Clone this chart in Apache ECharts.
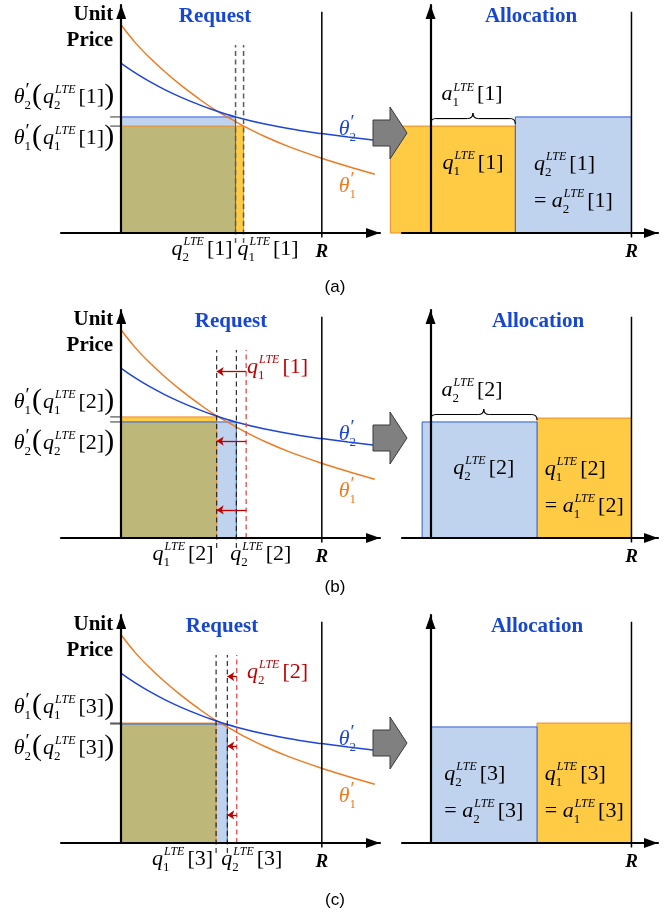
<!DOCTYPE html>
<html>
<head>
<meta charset="utf-8">
<script src="https://cdn.jsdelivr.net/npm/echarts@6/dist/echarts.min.js"></script>
<style>
  html, body { margin: 0; padding: 0; background: #fff; }
  #chart { width: 671px; height: 917px; }
</style>
</head>
<body>
<div id="chart"></div>
<script>
// capacity
const R = 10

// unit-price curves theta'_1 (orange) and theta'_2 (blue)
const theta1X = [0, 0.7, 1.36, 2.19, 3.02, 3.85, 4.68, 5.51, 6.08, 7.16, 8.32, 9.99, 11.31, 12.64]
const theta1Y = [9.12, 8.35, 7.74, 7.06, 6.45, 5.90, 5.40, 4.98, 4.70, 4.23, 3.80, 3.28, 2.92, 2.58]
const theta2X = [0, 0.7, 1.36, 2.19, 3.02, 3.85, 4.68, 5.71, 7.16, 8.82, 9.99, 11.31, 12.55]
const theta2Y = [7.44, 7.02, 6.67, 6.28, 5.94, 5.64, 5.37, 5.09, 4.78, 4.51, 4.36, 4.21, 4.08]

// one entry per round (a), (b), (c)
const steps = [1, 2, 3]
const panelNames = ['(a)', '(b)', '(c)']
const q1 = [6.1, 4.76, 4.73]      // requested amount, user 1
const p1 = [4.69, 5.31, 5.26]     // theta'_1(q1)
const q2 = [5.7, 5.74, 5.29]      // requested amount, user 2
const p2 = [5.09, 5.09, 5.22]     // theta'_2(q2)
const prevQ = [null, 6.23, 5.76]  // previous request of the user that moved (red dashed)
const movedUser = [null, 1, 2]
const arrowLevels = [7.3, 4.25, 1.23]

// allocation blocks [start, end, height]
const alloc1 = [[-2.0, 4.22, 4.69], [5.3, 10, 5.26], [5.3, 10, 5.26]]
const alloc2 = [[4.22, 10, 5.09], [-0.42, 5.3, 5.09], [0, 5.3, 5.09]]

// layout bits
const PANEL_DY = 305
const requestTitleX = [215, 231, 222]
const allocTitleX = [531, 538, 537]
const panelLabelY = [287, 587, 900]

const C = {
  orange: '#EE7B22', blue: '#1E46D3', title: '#1747CF',
  fillO: '#FFCB45', fillB: '#BFD3EE', olive: '#BDB77A',
  edgeO: '#EE8A2A', edgeB: '#2D5ED8', red: '#C00000', redDash: '#E24A4A'
}
const SERIF = '"Liberation Serif", "Times New Roman", serif'
const BOLD = 'bold 21px ' + SERIF
const RFONT = 'italic bold 19px ' + SERIF
const MATH = 22

const chart = echarts.init(document.getElementById('chart'))

function xAxisOf(gi, min, max) {
  return {
    type: 'value', gridIndex: gi, min, max, z: 5,
    axisLine: { onZero: true, symbol: ['none', 'triangle'], symbolSize: [10, 14], symbolOffset: [0, -7],
      lineStyle: { color: '#000', width: 2.2 } },
    axisTick: { show: false }, axisLabel: { show: false }, splitLine: { show: false }
  }
}
function yAxisOf(gi) {
  return {
    type: 'value', gridIndex: gi, min: 0, max: 10, z: 5,
    axisLine: { onZero: true, symbol: ['none', 'triangle'], symbolSize: [10, 14], symbolOffset: [0, -7],
      lineStyle: { color: '#000', width: 2.2 } },
    axisTick: { show: false }, axisLabel: { show: false }, splitLine: { show: false }
  }
}
function seg(gi, pts, color, width, dash, extra) {
  return Object.assign({
    type: 'line', xAxisIndex: gi, yAxisIndex: gi, data: pts, symbol: 'none', showSymbol: false,
    clip: false, silent: true, lineStyle: { color, width, type: dash || 'solid' }
  }, extra || {})
}

function renderRequest(params, api) {
  const a = [api.value(0), api.value(1)], b = [api.value(2), api.value(3)]
  const o = api.coord([0, 0])
  const pa = api.coord(a), pb = api.coord(b)
  const pm = api.coord([Math.min(a[0], b[0]), Math.min(a[1], b[1])])
  const tx = api.coord([-0.55, 0])[0]
  const rect = (p, fill) => ({ type: 'rect', shape: { x: o[0], y: p[1], width: p[0] - o[0], height: o[1] - p[1] }, style: { fill } })
  const edge = (p, stroke) => ({ type: 'polyline', shape: { points: [[o[0], p[1]], [p[0], p[1]], [p[0], o[1]]] }, style: { stroke, lineWidth: 1, fill: 'none' } })
  const tick = p => ({ type: 'line', shape: { x1: tx, y1: p[1], x2: o[0], y2: p[1] }, style: { stroke: '#333', lineWidth: 1 } })
  return { type: 'group', children: [rect(pa, C.fillO), rect(pb, C.fillB), rect(pm, C.olive), edge(pa, C.edgeO), edge(pb, C.edgeB), tick(pa), tick(pb)] }
}
function renderAlloc(params, api) {
  const s = api.coord([api.value(0), 0]), e = api.coord([api.value(1), api.value(2)])
  const u = api.value(3)
  return {
    type: 'rect', shape: { x: s[0], y: e[1], width: e[0] - s[0], height: s[1] - e[1] },
    style: { fill: u === 1 ? C.fillO : C.fillB, stroke: u === 1 ? C.edgeO : C.edgeB, lineWidth: 1 }
  }
}

const grids = [], xAxes = [], yAxes = [], series = []
steps.forEach((s, k) => {
  const top = 5 + k * PANEL_DY
  const L = 2 * k, Rg = 2 * k + 1
  grids.push({ left: 61, top, width: 319, height: 228 })
  grids.push({ left: 402, top, width: 256, height: 228 })
  xAxes.push(xAxisOf(L, -3, 12.9), xAxisOf(Rg, -1.42, 11.32))
  yAxes.push(yAxisOf(L), yAxisOf(Rg))

  // request side
  series.push({ type: 'custom', xAxisIndex: L, yAxisIndex: L, clip: false, silent: true,
    renderItem: renderRequest, data: [[q1[k], p1[k], q2[k], p2[k]]] })
  series.push(seg(L, theta1X.map((x, i) => [x, theta1Y[i]]), C.orange, 1.5, null, { smooth: 0.4, clip: true }))
  series.push(seg(L, theta2X.map((x, i) => [x, theta2Y[i]]), C.blue, 1.5, null, { smooth: 0.4, clip: true }))
  series.push(seg(L, [[R, -0.2], [R, 9.7]], '#000', 1.5))
  const dashCol = k === 0 ? '#5a5a5a' : '#1a1a1a'
  series.push(seg(L, [[q1[k], -0.44], [q1[k], 8.25]], dashCol, k === 0 ? 1.5 : 1.1, [5, 3.5]))
  series.push(seg(L, [[q2[k], -0.44], [q2[k], 8.25]], dashCol, k === 0 ? 1.5 : 1.1, [5, 3.5]))
  if (prevQ[k] != null) {
    const qNew = movedUser[k] === 1 ? q1[k] : q2[k]
    series.push(seg(L, [[prevQ[k], 0], [prevQ[k], 8.25]], C.redDash, 1.3, [5, 3.5], {
      markLine: {
        silent: true, symbol: ['none', 'arrow'], symbolSize: 7, label: { show: false },
        lineStyle: { color: C.red, width: 1.3, type: 'solid' },
        data: arrowLevels.map(l => [{ coord: [prevQ[k], l] }, { coord: [qNew, l] }])
      }
    }))
  }

  // allocation side
  series.push({ type: 'custom', xAxisIndex: Rg, yAxisIndex: Rg, clip: false, silent: true,
    renderItem: renderAlloc, data: [alloc1[k].concat([1]), alloc2[k].concat([2])] })
  series.push(seg(Rg, [[R, -0.2], [R, 9.7]], '#000', 1.5))
})

chart.setOption({
  animation: false,
  grid: grids, xAxis: xAxes, yAxis: yAxes, series
})

// ---------- math-style labels ----------
const ctx = document.createElement('canvas').getContext('2d')
function fontOf(kind, size) {
  const pre = kind === 'it' ? 'italic ' : kind === 'bi' ? 'italic bold ' : kind === 'b' ? 'bold ' : ''
  return pre + size + 'px ' + SERIF
}
function measure(t, f) { ctx.font = f; return ctx.measureText(t).width }

function layoutMath(tokens, base) {
  const parts = []
  let x = 0
  tokens.forEach(tk => {
    if (tk.gap) { x += tk.gap; return }
    if (tk.it != null || tk.rm != null) {
      const kind = tk.it != null ? 'it' : 'rm'
      const t = tk[kind], f = fontOf(kind, base)
      parts.push({ t, f, x, dy: 0, size: base })
      x += measure(t, f)
    } else if (tk.big) {
      const s = Math.round(base * 1.35), f = fontOf('rm', s)
      parts.push({ t: tk.big, f, x, dy: 2, size: s })
      x += measure(tk.big, f) + 1
    } else {
      let w = 0
      if (tk.sup) {
        const prime = tk.sup === '′'
        const s = prime ? Math.round(base * 0.85) : Math.round(base * 0.55)
        const f = fontOf(prime ? 'rm' : 'it', s)
        parts.push({ t: tk.sup, f, x: x + 1, dy: -base * (prime ? 0.33 : 0.47), size: s })
        w = Math.max(w, measure(tk.sup, f) + 1)
      }
      if (tk.sub) {
        const s = Math.round(base * 0.58), f = fontOf('rm', s)
        parts.push({ t: tk.sub, f, x, dy: base * 0.25, size: s })
        w = Math.max(w, measure(tk.sub, f))
      }
      x += w + 1
    }
  })
  return { parts, width: x }
}
function mathWidth(tokens, base) { return layoutMath(tokens, base || MATH).width }
function math(tokens, x, yc, align, color, base) {
  base = base || MATH
  const lay = layoutMath(tokens, base)
  const x0 = align === 'right' ? x - lay.width : align === 'center' ? x - lay.width / 2 : x
  const baseline = yc + 0.24 * base
  return {
    type: 'group', z: 100, silent: true,
    children: lay.parts.map(p => ({
      type: 'text', x: x0 + p.x, y: baseline + p.dy - 0.34 * p.size, z: 100,
      style: { text: p.t, font: p.f, fill: color, align: 'left', verticalAlign: 'middle' }
    }))
  }
}
const qTok = (sym, user, step) => [{ it: sym }, { sup: 'LTE', sub: String(user) }, { gap: 2 }, { rm: '[' + step + ']' }]
const thetaTok = user => [{ it: 'θ' }, { sup: '′', sub: String(user) }]
const thetaOf = (user, step) => thetaTok(user).concat([{ big: '(' }], qTok('q', user, step), [{ big: ')' }])

function txt(x, y, text, font, fill, align) {
  return { type: 'text', x, y, z: 100, silent: true, style: { text, font, fill, align: align || 'center', verticalAlign: 'middle' } }
}
function brace(x0, x1, yb, h) {
  const xm = (x0 + x1) / 2, r = h / 2, ym = yb - r, yt = yb - h
  const st = { stroke: '#000', lineWidth: 1.1, fill: 'none' }
  const bz = (a, b, c) => ({ type: 'bezierCurve', z: 100, silent: true, shape: { x1: a[0], y1: a[1], cpx1: b[0], cpy1: b[1], x2: c[0], y2: c[1] }, style: st })
  const ln = (a, b) => ({ type: 'line', z: 100, silent: true, shape: { x1: a[0], y1: a[1], x2: b[0], y2: b[1] }, style: st })
  return [
    bz([x0, yb], [x0, ym], [x0 + r, ym]), ln([x0 + r, ym], [xm - r, ym]),
    bz([xm - r, ym], [xm, ym], [xm, yt]), bz([xm, yt], [xm, ym], [xm + r, ym]),
    ln([xm + r, ym], [x1 - r, ym]), bz([x1 - r, ym], [x1, ym], [x1, yb])
  ]
}
const px = (gi, x, y) => chart.convertToPixel({ xAxisIndex: gi, yAxisIndex: gi }, [x, y])

const g = []
steps.forEach((s, k) => {
  const L = 2 * k, Rg = 2 * k + 1, oy = k * PANEL_DY
  const o = px(L, 0, 0)
  const axisY = o[1]

  g.push(txt(o[0] - 8, oy + 15, 'Unit', BOLD, '#000', 'right'))
  g.push(txt(o[0] - 8, oy + 41, 'Price', BOLD, '#000', 'right'))
  g.push(txt(requestTitleX[k], oy + 17, 'Request', BOLD, C.title))

  const users = [{ u: 1, q: q1[k], p: p1[k] }, { u: 2, q: q2[k], p: p2[k] }]
  const byP = users.slice().sort((a, b) => b.p - a.p)
  g.push(math(thetaOf(byP[0].u, s), o[0] - 6, axisY - 134, 'right', '#000'))
  g.push(math(thetaOf(byP[1].u, s), o[0] - 6, axisY - 93, 'right', '#000'))

  const l2 = px(L, 11.3, 4.45), l1 = px(L, 11.3, 1.95)
  g.push(math(thetaTok(2), l2[0], l2[1], 'center', C.blue))
  g.push(math(thetaTok(1), l1[0], l1[1], 'center', C.orange))

  const byQ = users.slice().sort((a, b) => a.q - b.q)
  const xa = px(L, byQ[0].q, 0)[0], xb = px(L, byQ[1].q, 0)[0]
  g.push(math(qTok('q', byQ[0].u, s), xa - 3, axisY + 18, 'right', '#000'))
  g.push(math(qTok('q', byQ[1].u, s), Math.max(xa + 2, xb - 6), axisY + 18, 'left', '#000'))
  g.push(txt(px(L, R, 0)[0], axisY + 19, 'R', RFONT, '#000'))
  g.push(txt(335, panelLabelY[k], panelNames[k], '17px "Liberation Sans", Arial, sans-serif', '#000'))

  if (prevQ[k] != null) {
    g.push(math(qTok('q', movedUser[k], s - 1), 247, axisY - 169, 'left', C.red))
  }

  // allocation side labels
  g.push(txt(allocTitleX[k], oy + 17, 'Allocation', BOLD, C.title))
  g.push(txt(px(Rg, R, 0)[0], axisY + 19, 'R', RFONT, '#000'))
  ;[[alloc1[k], 1], [alloc2[k], 2]].forEach(([b, u]) => {
    const xs = px(Rg, Math.max(b[0], 0), 0)[0], xe = px(Rg, b[1], 0)[0], yt = px(Rg, 0, b[2])[1]
    const cx = (xs + xe) / 2
    if (b[0] < 0) {
      g.push(math(qTok('q', u, s), cx, axisY - 68, 'center', '#000'))
      brace(xs, xe, yt - 2, 11).forEach(el => g.push(el))
      g.push(math(qTok('a', u, s), xs + 11, yt - 2 - 11 - 16.5, 'left', '#000'))
    } else {
      const t1 = qTok('q', u, s), t2 = [{ rm: '= ' }].concat(qTok('a', u, s))
      const w = Math.max(mathWidth(t1), mathWidth(t2))
      g.push(math(t1, cx - w / 2, axisY - 67, 'left', '#000'))
      g.push(math(t2, cx - w / 2, axisY - 30, 'left', '#000'))
    }
  })

  // transition arrow between the two plots
  g.push({
    type: 'polygon', z: 110, silent: true,
    shape: { points: [[373, oy + 120], [390, oy + 120], [390, oy + 107], [407, oy + 133], [390, oy + 159], [390, oy + 146], [373, oy + 146]] },
    style: { fill: '#808080', stroke: '#3a3a3a', lineWidth: 1 }
  })
})

chart.setOption({ graphic: g })
</script>
</body>
</html>
